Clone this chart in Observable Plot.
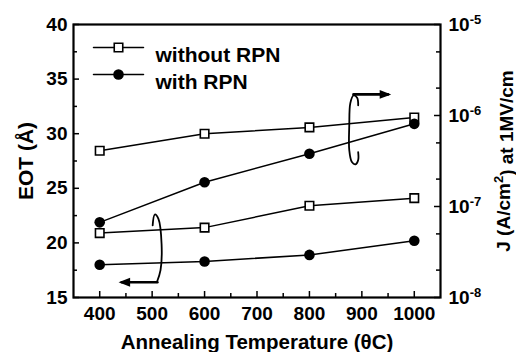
<!DOCTYPE html>
<html><head><meta charset="utf-8">
<script src="https://cdn.jsdelivr.net/npm/d3@7"></script>
<script src="https://cdn.jsdelivr.net/npm/@observablehq/plot@0.6"></script>
<style>
body{margin:0;background:#fff;}
#wrap{position:relative;width:516px;height:352px;}
#wrap svg{position:absolute;left:0;top:0;}
</style></head><body><div id="wrap"></div>
<script>
// ---- data ----
const temps = [400, 600, 800, 1000];
const eotWithout = [20.9, 21.4, 23.4, 24.1];
const eotWith = [18.0, 18.3, 18.9, 20.2];
const jWithout = [4.1e-7, 6.3e-7, 7.4e-7, 9.5e-7];
const jWith = [6.7e-8, 1.85e-7, 3.8e-7, 8.1e-7];
const xTicks = [400, 500, 600, 700, 800, 900, 1000];
const xMinor = [450, 550, 650, 750, 850, 950];
const eotTicks = [15, 20, 25, 30, 35, 40];
const eotMinor = [17.5, 22.5, 27.5, 32.5, 37.5];
const jTicks = [1e-8, 1e-7, 1e-6, 1e-5];
const jMinor = [2e-8, 5e-8, 2e-7, 5e-7, 2e-6, 5e-6];
const legendLabels = ["without RPN", "with RPN"];
// rotation-arrow annotations (in x / EOT units)
const loopLeft = [{x:501,y:21.6},{x:505,y:22.6},{x:512,y:22.2},{x:518,y:19.9},{x:516,y:17.5},{x:509,y:16.4}];
const shaftLeft = [{x:510,y:16.4},{x:442,y:16.4}];
const tipLeft = [{x:436,y:16.4}];
const loopRight = [{x:893,y:32.6},{x:891,y:33.3},{x:884,y:33.5},{x:878,y:32.8},{x:876,y:30.8},{x:876,y:28.5},{x:881,y:27.4},{x:888,y:27.2},{x:893,y:27.6},{x:893,y:28.3}];
const shaftRight = [{x:884,y:33.6},{x:950,y:33.6}];
const tipRight = [{x:956,y:33.6}];

// ---- layout ----
const W = 516, H = 352;
const M = {top: 24, right: 76, bottom: 55, left: 73};
const iw = W - M.left - M.right, ih = H - M.top - M.bottom;
const font = "'Liberation Sans', Arial, Helvetica, sans-serif";
const common = {
  width: W, height: H,
  marginTop: M.top, marginRight: M.right, marginBottom: M.bottom, marginLeft: M.left,
  style: {fontFamily: font, fontWeight: "bold", fontSize: "19px", color: "#000", background: "transparent", overflow: "visible"}
};
const rowsEOT = temps.map((t, i) => ({t, a: eotWithout[i], b: eotWith[i]}));
const rowsJ = temps.map((t, i) => ({t, a: jWithout[i], b: jWith[i]}));
const hline = {draw(ctx, l) { ctx.moveTo(0, 0); ctx.lineTo(0, -l); }};
// filled arrow-head symbols, tip at the point
const headLeft = {draw(ctx, size) { const s = Math.sqrt(size); ctx.moveTo(0, 0); ctx.lineTo(1.3 * s, -0.5 * s); ctx.lineTo(1.3 * s, 0.5 * s); ctx.closePath(); }};
const headRight = {draw(ctx, size) { const s = Math.sqrt(size); ctx.moveTo(0, 0); ctx.lineTo(-1.3 * s, -0.5 * s); ctx.lineTo(-1.3 * s, 0.5 * s); ctx.closePath(); }};

const p1 = Plot.plot({
  ...common,
  x: {domain: [350, 1050]},
  y: {domain: [15, 40]},
  marks: [
    Plot.axisX(xTicks, {tickSize: 0, tickPadding: 9, tickFormat: d => String(d), label: null}),
    Plot.axisX({tickSize: 0, ticks: [], label: "Annealing Temperature (θC)", labelAnchor: "center", labelArrow: "none", labelOffset: 51, fontSize: 20.5}),
    Plot.axisY(eotTicks, {tickSize: 0, tickPadding: 6, label: null}),
    Plot.axisY({tickSize: 0, ticks: [], label: "EOT (Å)", labelAnchor: "center", labelArrow: "none", labelOffset: 55, fontSize: 21}),
    Plot.ruleY(eotTicks, {y: d => d, insetRight: iw - 6, strokeWidth: 1.5}),
    Plot.ruleY(eotMinor, {y: d => d, insetRight: iw - 4, strokeWidth: 1.5}),
    Plot.ruleX(xTicks, {x: d => d, insetTop: ih - 6, strokeWidth: 1.5}),
    Plot.ruleX(xMinor, {x: d => d, insetTop: ih - 4, strokeWidth: 1.5}),
    Plot.line(rowsEOT, {x: "t", y: "a", stroke: "#000", strokeWidth: 1.5}),
    Plot.line(rowsEOT, {x: "t", y: "b", stroke: "#000", strokeWidth: 1.5}),
    Plot.dot(rowsEOT, {x: "t", y: "a", symbol: "square", r: 4.8, fill: "#fff", stroke: "#000", strokeWidth: 1.6}),
    Plot.dot(rowsEOT, {x: "t", y: "b", symbol: "circle", r: 5.3, fill: "#000"}),
    // rotation arrows
    Plot.line(loopLeft, {x: "x", y: "y", curve: "catmull-rom", stroke: "#000", strokeWidth: 1.8}),
    Plot.line(shaftLeft, {x: "x", y: "y", stroke: "#000", strokeWidth: 2.6}),
    Plot.dot(tipLeft, {x: "x", y: "y", symbol: headLeft, r: 5, fill: "#000", stroke: null}),
    Plot.line(loopRight, {x: "x", y: "y", curve: "catmull-rom", stroke: "#000", strokeWidth: 1.8}),
    Plot.line(shaftRight, {x: "x", y: "y", stroke: "#000", strokeWidth: 2.6}),
    Plot.dot(tipRight, {x: "x", y: "y", symbol: headRight, r: 5, fill: "#000", stroke: null}),
    // legend
    Plot.vector([0], {frameAnchor: "top-left", dx: 45, dy: 23, rotate: 90, length: 50, anchor: "middle", shape: hline, stroke: "#000", strokeWidth: 1.5}),
    Plot.vector([0], {frameAnchor: "top-left", dx: 45, dy: 50, rotate: 90, length: 50, anchor: "middle", shape: hline, stroke: "#000", strokeWidth: 1.5}),
    Plot.dot([0], {frameAnchor: "top-left", dx: 45, dy: 23, symbol: "square", r: 4.8, fill: "#fff", stroke: "#000", strokeWidth: 1.6}),
    Plot.dot([0], {frameAnchor: "top-left", dx: 45, dy: 50, symbol: "circle", r: 5.3, fill: "#000"}),
    Plot.text([legendLabels[0]], {frameAnchor: "top-left", dx: 82, dy: 23, textAnchor: "start", fontSize: 21, fontWeight: "bold"}),
    Plot.text([legendLabels[1]], {frameAnchor: "top-left", dx: 82, dy: 50, textAnchor: "start", fontSize: 21, fontWeight: "bold"}),
    Plot.frame({stroke: "#000", strokeWidth: 2.2})
  ]
});

const p2 = Plot.plot({
  ...common,
  x: {domain: [350, 1050], axis: null},
  y: {type: "log", domain: [1e-8, 1e-5]},
  marks: [
    Plot.axisY(jTicks, {anchor: "right", tickSize: 0, tickPadding: 8, tickFormat: d => "10^" + Math.round(Math.log10(d)), label: null}),
    Plot.axisY({anchor: "right", tickSize: 0, ticks: [], label: "J (A/cm2) at 1MV/cm", labelAnchor: "center", labelArrow: "none", labelOffset: 69, fontSize: 19}),
    Plot.ruleY(jTicks, {y: d => d, insetLeft: iw - 6, strokeWidth: 1.5}),
    Plot.ruleY(jMinor, {y: d => d, insetLeft: iw - 4, strokeWidth: 1.5}),
    Plot.line(rowsJ, {x: "t", y: "a", stroke: "#000", strokeWidth: 1.5}),
    Plot.line(rowsJ, {x: "t", y: "b", stroke: "#000", strokeWidth: 1.5}),
    Plot.dot(rowsJ, {x: "t", y: "a", symbol: "square", r: 4.8, fill: "#fff", stroke: "#000", strokeWidth: 1.6}),
    Plot.dot(rowsJ, {x: "t", y: "b", symbol: "circle", r: 5.3, fill: "#000"})
  ]
});

// superscripts for the log-axis tick labels and the label
d3.select(p2).selectAll('g[aria-label="y-axis tick label"] text').each(function() {
  const [b, e] = this.textContent.split("^");
  const t = d3.select(this);
  t.text(null);
  t.append("tspan").text(b);
  t.append("tspan").attr("dy", "-0.5em").attr("font-size", "13px").text(e);
});
d3.select(p2).selectAll('g[aria-label="y-axis label"] text').each(function() {
  const t = d3.select(this);
  t.text(null);
  t.append("tspan").text("J (A/cm");
  t.append("tspan").attr("dy", "-0.5em").attr("font-size", "13px").text("2");
  t.append("tspan").attr("dy", "0.5em").text(") at 1MV/cm");
});

const wrap = document.getElementById("wrap");
wrap.appendChild(p1);
wrap.appendChild(p2);
</script>
</body></html>
